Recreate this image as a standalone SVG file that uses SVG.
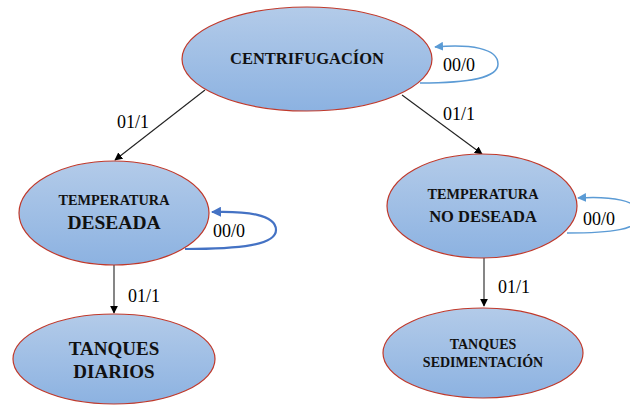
<svg xmlns="http://www.w3.org/2000/svg" width="630" height="405" viewBox="0 0 630 405">
  <defs>
    <linearGradient id="stateFill" x1="0" y1="0" x2="0" y2="1">
      <stop offset="0" stop-color="#b3cbe9"/>
      <stop offset="1" stop-color="#8cb2e1"/>
    </linearGradient>
    <marker id="arrowBlack" viewBox="0 0 10 10" refX="9" refY="5" markerWidth="8" markerHeight="8" markerUnits="userSpaceOnUse" orient="auto">
      <path d="M0,0 L10,5 L0,10 z" fill="#000"/>
    </marker>
    <marker id="arrowLight" viewBox="0 0 10 10" refX="9" refY="5" markerWidth="9" markerHeight="9" markerUnits="userSpaceOnUse" orient="auto">
      <path d="M0,0 L10,5 L0,10 z" fill="#5b9bd5"/>
    </marker>
    <marker id="arrowDark" viewBox="0 0 10 10" refX="9" refY="5" markerWidth="10" markerHeight="10" markerUnits="userSpaceOnUse" orient="auto">
      <path d="M0,0 L10,5 L0,10 z" fill="#4472c4"/>
    </marker>
  </defs>
  <style>
    .state { fill: url(#stateFill); stroke: #c0392b; stroke-width: 1.2; }
    .edge { fill: none; stroke: #222; stroke-width: 1.1; marker-end: url(#arrowBlack); }
    .loop { fill: none; stroke: #5b9bd5; stroke-width: 1.5; marker-end: url(#arrowLight); }
    .loopDark { fill: none; stroke: #4472c4; stroke-width: 2.2; marker-end: url(#arrowDark); }
    .label { font-family: "Liberation Serif", serif; font-size: 18px; fill: #000; }
    .name { font-family: "Liberation Serif", serif; font-weight: bold; fill: #111; text-anchor: middle; }
  </style>

  <!-- transitions -->
  <g id="connectors">
    <line class="edge" x1="205" y1="90" x2="115" y2="160"/>
    <line class="edge" x1="402" y1="95" x2="482" y2="154"/>
    <line class="edge" x1="114" y1="265" x2="114" y2="313"/>
    <line class="edge" x1="484" y1="258" x2="484" y2="306"/>
    <path class="loop" d="M420,83 C470,83 498,78 498,64 C498,48 470,44 435,47"/>
    <path class="loopDark" d="M185,249 C240,249 276,245 276,230 C276,214 245,211 212,212"/>
    <path class="loop" d="M567,233 C610,233 640,230 640,215 C640,200 610,196 578,198"/>
    <text class="label" x="443" y="71">00/0</text>
    <text class="label" x="117" y="128">01/1</text>
    <text class="label" x="443" y="120">01/1</text>
    <text class="label" x="213" y="237">00/0</text>
    <text class="label" x="583" y="225">00/0</text>
    <text class="label" x="128" y="302">01/1</text>
    <text class="label" x="498" y="293">01/1</text>
  </g>

  <g id="centrifugacion">
    <ellipse class="state" cx="307" cy="59" rx="125" ry="52"/>
    <text class="name" x="307" y="64" font-size="16.5">CENTRIFUGACÍON</text>
  </g>

  <g id="temperatura-deseada">
    <ellipse class="state" cx="114" cy="213" rx="95" ry="52"/>
    <text class="name" x="114" y="205" font-size="14.3">TEMPERATURA</text>
    <text class="name" x="114" y="229" font-size="19.5">DESEADA</text>
  </g>

  <g id="temperatura-no-deseada">
    <ellipse class="state" cx="482" cy="206" rx="95" ry="52"/>
    <text class="name" x="483" y="199" font-size="14.3">TEMPERATURA</text>
    <text class="name" x="483" y="222" font-size="16.5">NO DESEADA</text>
  </g>

  <g id="tanques-diarios">
    <ellipse class="state" cx="114" cy="359" rx="101" ry="45"/>
    <text class="name" x="114" y="355" font-size="19">TANQUES</text>
    <text class="name" x="114" y="378" font-size="19">DIARIOS</text>
  </g>

  <g id="tanques-sedimentacion">
    <ellipse class="state" cx="483" cy="353" rx="100" ry="45"/>
    <text class="name" x="483" y="349" font-size="14">TANQUES</text>
    <text class="name" x="483" y="367" font-size="14">SEDIMENTACIÓN</text>
  </g>
</svg>
